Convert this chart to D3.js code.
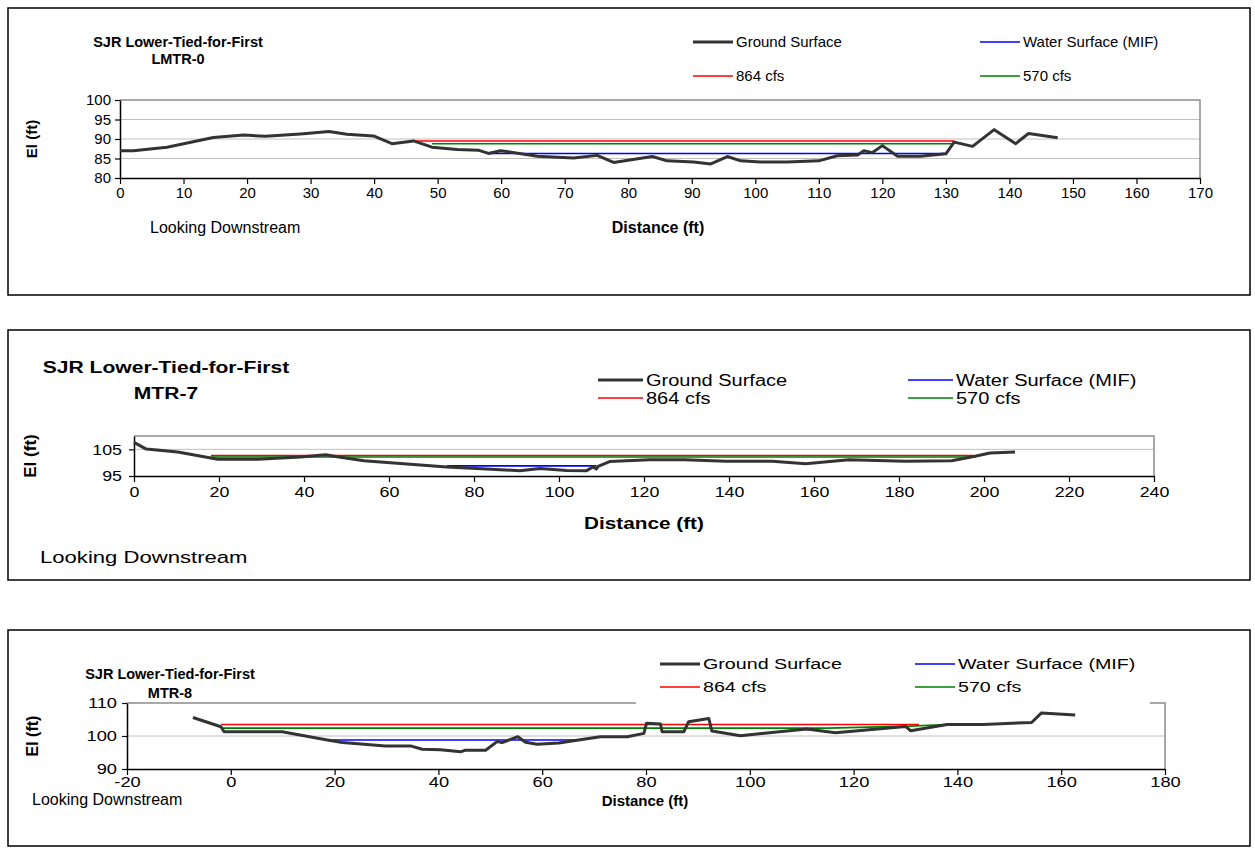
<!DOCTYPE html>
<html>
<head>
<meta charset="utf-8">
<script src="https://cdn.jsdelivr.net/npm/d3@7"></script>
<style>
  body { margin: 0; background: #fff; }
  text { font-family: "Liberation Sans", Arial, sans-serif; fill: #000; }
</style>
</head>
<body>
<script>
var seriesNames = ["Ground Surface", "Water Surface (MIF)", "864 cfs", "570 cfs"];

// LMTR-0
var lmtr0Dist   = [0, 2.1, 7.4, 14.7, 19.5, 22.9, 28.4, 32.9, 35.7, 39.9, 42.8, 46.2, 49.1, 53.1, 56.5, 58.0, 59.9, 65.7, 71.4, 75.1, 77.7, 83.8, 86.1, 90.3, 93.0, 95.6, 97.7, 100.8, 105.0, 110.0, 112.9, 116.1, 117.1, 118.4, 120.0, 122.4, 126.0, 130.0, 131.3, 134.2, 137.6, 141.0, 143.0, 147.6];
var lmtr0Ground = [87.0, 87.0, 87.9, 90.4, 91.0, 90.7, 91.3, 91.9, 91.2, 90.8, 88.8, 89.5, 87.9, 87.3, 87.1, 86.3, 87.0, 85.6, 85.1, 85.8, 84.0, 85.5, 84.4, 84.1, 83.6, 85.5, 84.4, 84.1, 84.1, 84.4, 85.7, 85.9, 87.0, 86.5, 88.3, 85.6, 85.6, 86.2, 89.2, 88.1, 92.4, 88.8, 91.4, 90.3];
var lmtr0MifDist  = [58.0, 130.0], lmtr0MifEl  = [86.3, 86.3];
var lmtr0Q864Dist = [46.2, 131.3], lmtr0Q864El = [89.5, 89.5];
var lmtr0Q570Dist = [49.1, 131.3], lmtr0Q570El = [88.8, 88.8];

// MTR-7
var mtr7Dist   = [0, 2.9, 10.3, 19.7, 29.1, 39.2, 45.1, 47.8, 54.1, 65.8, 73.6, 79.5, 90.8, 95.5, 101.8, 106.5, 108.0, 108.8, 109.2, 111.9, 121.3, 129.5, 139.3, 150.2, 158.0, 168.2, 181.5, 192.4, 197.9, 201.4, 207.3];
var mtr7Ground = [107.6, 105.1, 104.0, 101.3, 101.3, 102.1, 103.0, 102.2, 100.7, 99.3, 98.4, 97.9, 97.0, 97.8, 97.1, 97.0, 98.4, 97.6, 98.6, 100.4, 101.1, 101.1, 100.5, 100.5, 99.6, 101.1, 100.5, 100.7, 102.4, 103.6, 104.0];
var mtr7MifDist  = [73.6, 108.8], mtr7MifEl  = [98.8, 98.8];
var mtr7Q864Dist = [18.1, 197.5], mtr7Q864El = [102.7, 102.7];
var mtr7Q570Dist = [18.1, 198.0], mtr7Q570El = [102.1, 102.1];

// MTR-8
var mtr8Dist   = [-7.3, -1.9, -1.3, 9.9, 18.6, 21.5, 29.8, 34.6, 36.9, 40.4, 44.3, 45.2, 49.1, 51.3, 52.3, 55.3, 56.8, 59.0, 63.2, 67.0, 71.2, 76.4, 79.6, 80.1, 82.8, 83.1, 87.3, 88.2, 92.1, 92.7, 98.2, 111.0, 116.5, 130.0, 131.0, 138.0, 145.0, 154.3, 156.2, 162.7];
var mtr8Ground = [105.6, 102.8, 101.3, 101.3, 98.8, 98.0, 97.0, 97.0, 96.0, 95.8, 95.2, 95.7, 95.7, 98.3, 98.0, 99.8, 98.1, 97.5, 97.9, 98.8, 99.8, 99.8, 100.8, 103.9, 103.6, 101.3, 101.3, 104.3, 105.3, 101.5, 100.1, 102.1, 101.0, 102.9, 101.6, 103.5, 103.5, 104.1, 107.0, 106.4];
var mtr8MifDist  = [18.6, 67.0], mtr8MifEl  = [98.8, 98.8];
var mtr8Q864Dist = [-1.9, 132.6], mtr8Q864El = [103.5, 103.5];
var mtr8Q570Dist = [-1.9, 115.0, 131.0, 138.0], mtr8Q570El = [102.4, 102.4, 103.0, 103.5];

var seriesColors = ["#333333", "#0000ff", "#ff0000", "#008000"];
var seriesWidths = [3, 1.6, 1.6, 1.6];

function zip(xs, ys) {
    return xs.map(function (x, i) { return [x, ys[i]]; });
}

// the original charts were squeezed into their frames, so some text runs wide: [size, horizontal stretch]
var panels = [
  { name: "LMTR-0", box: [8, 8, 1250, 295], plot: [120, 100, 1200, 178],
    xDomain: [0, 170], xTicks: d3.range(0, 171, 10), yDomain: [80, 100], yTicks: d3.range(80, 101, 5),
    series: [zip(lmtr0Dist, lmtr0Ground), zip(lmtr0MifDist, lmtr0MifEl), zip(lmtr0Q864Dist, lmtr0Q864El), zip(lmtr0Q570Dist, lmtr0Q570El)],
    font: { title: [14.5, 1], legend: [15, 1], tick: [15, 1], axis: [16, 1], el: 15, look: [16, 1] },
    titleX: 178, titleY: [47, 64], legendX: [693, 980], legendY: [42, 76], legendLine: 40,
    elX: 32, distX: 658, distY: 233, lookX: 150, lookY: 233, tickGap: 15, yLabelX: -9, legendBox: null },
  { name: "MTR-7", box: [8, 330, 1250, 580], plot: [134, 436, 1154, 476],
    xDomain: [0, 240], xTicks: d3.range(0, 241, 20), yDomain: [95, 110], yTicks: [95, 105],
    series: [zip(mtr7Dist, mtr7Ground), zip(mtr7MifDist, mtr7MifEl), zip(mtr7Q864Dist, mtr7Q864El), zip(mtr7Q570Dist, mtr7Q570El)],
    font: { title: [17, 1.24], legend: [16, 1.25], tick: [15.5, 1.15], axis: [17, 1.22], el: 17, look: [17, 1.3] },
    titleX: 166, titleY: [373, 399], legendX: [598, 908], legendY: [380, 398], legendLine: 45,
    elX: 30, distX: 644, distY: 529, lookX: 40, lookY: 563, tickGap: 16, yLabelX: -12, legendBox: null },
  { name: "MTR-8", box: [8, 630, 1250, 846], plot: [127, 703, 1165, 769],
    xDomain: [-20, 180], xTicks: d3.range(-20, 181, 20), yDomain: [90, 110], yTicks: [90, 100, 110],
    series: [zip(mtr8Dist, mtr8Ground), zip(mtr8MifDist, mtr8MifEl), zip(mtr8Q864Dist, mtr8Q864El), zip(mtr8Q570Dist, mtr8Q570El)],
    font: { title: [14.5, 1], legend: [15.5, 1.27], tick: [14.5, 1.26], axis: [15, 1], el: 16, look: [16, 1] },
    titleX: 170, titleY: [679, 698], legendX: [660, 915], legendY: [664, 687], legendLine: 40,
    elX: 32, distX: 645, distY: 806, lookX: 32, lookY: 805, tickGap: 13, yLabelX: -10, legendBox: [636, 648, 1150, 706] }
];

var svg = d3.select("body").append("svg")
    .attr("width", 1255)
    .attr("height", 856);

svg.append("rect").attr("width", 1255).attr("height", 856).attr("fill", "#fff");

// widen text horizontally, keeping its anchor point where it was
function stretch(sel, sx) {
    if (sx === 1) return;
    sel.each(function () {
        var t = d3.select(this);
        var x0 = +t.attr("x") || 0;
        t.attr("x", x0 / sx).attr("transform", "scale(" + sx + ",1)");
    });
}

function drawPanel(p) {
    var g = svg.append("g");
    var b = p.box, pl = p.plot, f = p.font;

    g.append("rect")
        .attr("x", b[0]).attr("y", b[1])
        .attr("width", b[2] - b[0]).attr("height", b[3] - b[1])
        .attr("fill", "#fff").attr("stroke", "#000").attr("stroke-width", 1.5);

    var x = d3.scaleLinear().domain(p.xDomain).range([pl[0], pl[2]]);
    var y = d3.scaleLinear().domain(p.yDomain).range([pl[3], pl[1]]);

    // gridlines
    g.selectAll("line.grid").data(p.yTicks.filter(function (t) { return t > p.yDomain[0] && t < p.yDomain[1]; }))
      .enter().append("line")
        .attr("x1", pl[0]).attr("x2", pl[2])
        .attr("y1", function (d) { return y(d); }).attr("y2", function (d) { return y(d); })
        .attr("stroke", "#c0c0c0").attr("stroke-width", 1);

    // plot border (top / right)
    g.append("path")
        .attr("d", "M" + pl[0] + "," + pl[1] + "H" + pl[2] + "V" + pl[3])
        .attr("fill", "none").attr("stroke", "#8c8c8c").attr("stroke-width", 1.5);

    // axes
    var fmt = function (d) { return String(d); };  // plain hyphen for -20, like the original
    var xAxis = g.append("g").attr("transform", "translate(0," + pl[3] + ")")
        .call(d3.axisBottom(x).tickValues(p.xTicks).tickSize(6).tickSizeOuter(0).tickFormat(fmt));
    var yAxis = g.append("g").attr("transform", "translate(" + pl[0] + ",0)")
        .call(d3.axisLeft(y).tickValues(p.yTicks).tickSize(5).tickSizeOuter(0).tickFormat(fmt));
    [xAxis, yAxis].forEach(function (a) {
        a.select(".domain").attr("stroke", "#000").attr("stroke-width", 1.5);
        a.selectAll(".tick line").attr("stroke", "#000").attr("stroke-width", 1.2);
        a.selectAll(".tick text").attr("font-size", f.tick[0]).attr("font-family", "Liberation Sans, Arial, sans-serif").attr("fill", "#000");
    });
    xAxis.selectAll(".tick text").attr("y", p.tickGap).attr("dy", "0.35em");
    yAxis.selectAll(".tick text").attr("x", p.yLabelX);
    stretch(xAxis.selectAll(".tick text"), f.tick[1]);
    stretch(yAxis.selectAll(".tick text"), f.tick[1]);

    // series
    var line = d3.line().x(function (d) { return x(d[0]); }).y(function (d) { return y(d[1]); });
    [1, 2, 3, 0].forEach(function (i) {
        g.append("path")
            .datum(p.series[i])
            .attr("d", line)
            .attr("fill", "none")
            .attr("stroke", seriesColors[i])
            .attr("stroke-width", seriesWidths[i])
            .attr("stroke-linejoin", "round");
    });

    // legend (white box hides plot border where it overlaps)
    if (p.legendBox) {
        g.append("rect")
            .attr("x", p.legendBox[0]).attr("y", p.legendBox[1])
            .attr("width", p.legendBox[2] - p.legendBox[0]).attr("height", p.legendBox[3] - p.legendBox[1])
            .attr("fill", "#fff");
    }
    seriesNames.forEach(function (name, i) {
        var lx = p.legendX[i % 2], ly = p.legendY[i < 2 ? 0 : 1];
        g.append("line")
            .attr("x1", lx).attr("x2", lx + p.legendLine)
            .attr("y1", ly).attr("y2", ly)
            .attr("stroke", seriesColors[i]).attr("stroke-width", seriesWidths[i]);
        g.append("text")
            .attr("x", lx + p.legendLine + 3).attr("y", ly)
            .attr("dy", "0.35em")
            .attr("font-size", f.legend[0])
            .text(name)
            .call(stretch, f.legend[1]);
    });

    // titles and labels
    g.append("text").attr("x", p.titleX).attr("y", p.titleY[0])
        .attr("text-anchor", "middle").attr("font-weight", "bold").attr("font-size", f.title[0])
        .text("SJR Lower-Tied-for-First")
        .call(stretch, f.title[1]);
    g.append("text").attr("x", p.titleX).attr("y", p.titleY[1])
        .attr("text-anchor", "middle").attr("font-weight", "bold").attr("font-size", f.title[0])
        .text(p.name)
        .call(stretch, f.title[1]);

    g.append("text")
        .attr("transform", "translate(" + p.elX + "," + ((pl[1] + pl[3]) / 2) + ") rotate(-90)")
        .attr("text-anchor", "middle").attr("dy", "0.35em")
        .attr("font-weight", "bold").attr("font-size", f.el)
        .text("El (ft)");

    g.append("text").attr("x", p.distX).attr("y", p.distY)
        .attr("text-anchor", "middle").attr("font-weight", "bold").attr("font-size", f.axis[0])
        .text("Distance (ft)")
        .call(stretch, f.axis[1]);

    g.append("text").attr("x", p.lookX).attr("y", p.lookY)
        .attr("font-size", f.look[0])
        .text("Looking Downstream")
        .call(stretch, f.look[1]);
}

panels.forEach(drawPanel);
</script>
</body>
</html>
